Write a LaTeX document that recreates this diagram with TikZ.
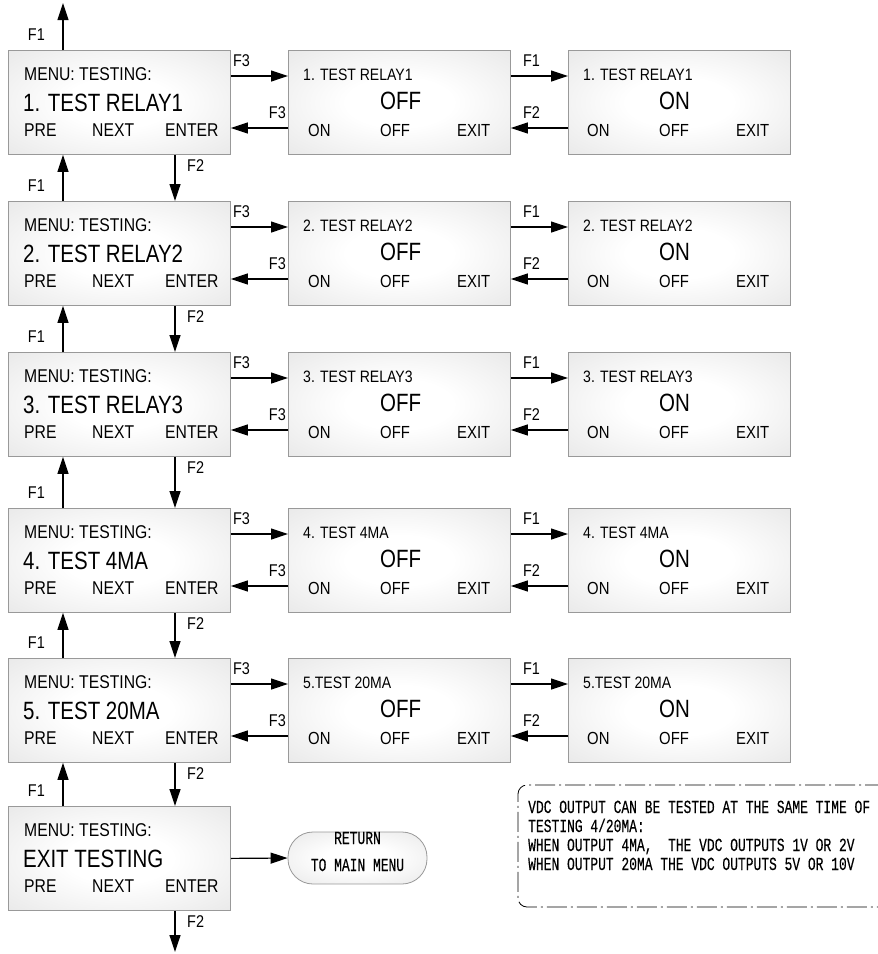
\documentclass[tikz,border=0pt]{standalone}
\usepackage{fontspec}
\newfontfamily\myNarrow[FakeStretch=0.85]{Liberation Sans}
\newfontfamily\myBig[FakeStretch=0.82]{Liberation Sans}
\newfontfamily\myMono[FakeStretch=0.70,FakeBold=0.25]{Liberation Mono}
\usetikzlibrary{arrows.meta,calc}
\pgfdeclareradialshading{boxshade}{\pgfpoint{0bp}{0bp}}{color(0bp)=(white); color(12bp)=(white); color(48bp)=(black!13); color(75bp)=(black!17)}
\begin{document}
\begin{tikzpicture}[x=1pt,y=-1pt,
  scr/.style={draw=black!40, line width=0.8pt, shading=boxshade, minimum width=222pt, minimum height=104pt, anchor=north west, inner sep=0pt},
  retn/.style={draw=black!40, line width=0.8pt, shading=boxshade, minimum width=139pt, minimum height=52pt, rounded corners=25pt, inner sep=0pt},
  arr/.style={line width=1.2pt, -{Triangle[length=17pt,width=11pt]}},
  lab/.style={font=\myNarrow\fontsize{17}{17}\selectfont, inner sep=0pt},
  menut/.style={font=\myNarrow\fontsize{18.5}{20}\selectfont, inner sep=0pt, anchor=base west},
  bigt/.style={font=\myBig\fontsize{25}{27}\selectfont, inner sep=0pt, anchor=base west},
  subt/.style={font=\myNarrow\fontsize{16.5}{18}\selectfont, inner sep=0pt, anchor=base west},
  keyt/.style={font=\myNarrow\fontsize{17.5}{18}\selectfont, inner sep=0pt, anchor=base west},
  monot/.style={font=\myMono\fontsize{18.5}{19}\selectfont, inner sep=0pt, anchor=base west},
  monoc/.style={font=\myMono\fontsize{18.5}{19}\selectfont, inner sep=0pt, anchor=base},
  notebox/.style={line width=0.8pt, dash pattern=on 20pt off 4pt on 2pt off 4pt, rounded corners=9pt}
]
\useasboundingbox (0,0) rectangle (878,954);

% ---- rows 1..5 ----
\foreach \i/\t/\BigTxt/\SubTxt in {1/50/1. TEST RELAY1/1. TEST RELAY1,
                                   2/201/2. TEST RELAY2/2. TEST RELAY2,
                                   3/352/3. TEST RELAY3/3. TEST RELAY3,
                                   4/508/4. TEST 4MA/4. TEST 4MA,
                                   5/658/5. TEST 20MA/5.TEST 20MA}{
  \node[scr] (L\i) at (8,\t) {};
  \node[scr] (M\i) at (288,\t) {};
  \node[scr] (R\i) at (568,\t) {};
  % left box texts
  \node[menut] (Lm\i) at ($(L\i.north west)+(16,30)$) {MENU: TESTING:};
  \node[bigt]  (Lb\i) at ($(L\i.north west)+(15,61)$) {\BigTxt};
  \node[menut] (Lp\i) at ($(L\i.north west)+(16,86)$) {PRE};
  \node[menut] (Ln\i) at ($(L\i.north west)+(84,86)$) {NEXT};
  \node[menut] (Le\i) at ($(L\i.north west)+(157,86)$) {ENTER};
  % middle box texts
  \node[subt] (Ms\i) at ($(M\i.north west)+(15,30)$) {\SubTxt};
  \node[bigt] (Mb\i) at ($(M\i.north west)+(92,59)$) {OFF};
  \node[keyt] (Mo\i) at ($(M\i.north west)+(20,86)$) {ON};
  \node[keyt] (Mf\i) at ($(M\i.north west)+(92,86)$) {OFF};
  \node[keyt] (Mx\i) at ($(M\i.north west)+(169,86)$) {EXIT};
  % right box texts
  \node[subt] (Rs\i) at ($(R\i.north west)+(15,30)$) {\SubTxt};
  \node[bigt] (Rb\i) at ($(R\i.north west)+(91,59)$) {ON};
  \node[keyt] (Ro\i) at ($(R\i.north west)+(19,86)$) {ON};
  \node[keyt] (Rf\i) at ($(R\i.north west)+(91,86)$) {OFF};
  \node[keyt] (Rx\i) at ($(R\i.north west)+(168,86)$) {EXIT};
  % horizontal arrows
  \draw[arr] ($(L\i.north east)+(0,26)$) -- ($(M\i.north west)+(0,26)$);
  \draw[arr] ($(M\i.north west)+(0,78)$) -- ($(L\i.north east)+(0,78)$);
  \draw[arr] ($(M\i.north east)+(0,26)$) -- ($(R\i.north west)+(0,26)$);
  \draw[arr] ($(R\i.north west)+(0,78)$) -- ($(M\i.north east)+(0,78)$);
  \node[lab, anchor=south west] (F3a\i) at ($(L\i.north east)+(2,17)$) {F3};
  \node[lab, anchor=south east] (F3b\i) at ($(M\i.north west)+(-2,69)$) {F3};
  \node[lab, anchor=south west] (F1m\i) at ($(M\i.north east)+(12,17)$) {F1};
  \node[lab, anchor=south west] (F2m\i) at ($(M\i.north east)+(12,69)$) {F2};
}

% ---- row 6 ----
\node[scr] (L6) at (8,806) {};
\node[menut] (Lm6) at ($(L6.north west)+(16,30)$) {MENU: TESTING:};
\node[bigt]  (Lb6) at ($(L6.north west)+(15,61)$) {EXIT TESTING};
\node[menut] (Lp6) at ($(L6.north west)+(16,86)$) {PRE};
\node[menut] (Ln6) at ($(L6.north west)+(84,86)$) {NEXT};
\node[menut] (Le6) at ($(L6.north west)+(157,86)$) {ENTER};

\node[retn] (ret) at (357.5,858) {};
\node[monoc] (ret1) at (357.5,844) {RETURN};
\node[monoc] (ret2) at (357.5,871) {TO MAIN MENU};
\draw[arr] (L6.east) -- (ret.west);

% ---- vertical arrows ----
\coordinate (topend) at (63,3);
\coordinate (botend) at (175,952);
\draw[arr] ($(L1.north west)+(55,0)$) -- (topend);
\foreach \i/\j in {1/2,2/3,3/4,4/5,5/6}{
  \draw[arr] ($(L\j.north west)+(55,0)$) -- ($(L\i.south west)+(55,0)$);
  \draw[arr] ($(L\i.south west)+(167,0)$) -- ($(L\j.north west)+(167,0)$);
}
\draw[arr] ($(L6.south west)+(167,0)$) -- (botend);
\foreach \j in {1,...,6}{
  \node[lab, anchor=south east] (F1u\j) at ($(L\j.north west)+(37,-9)$) {F1};
  \node[lab, anchor=north west] (F2d\j) at ($(L\j.south west)+(179,5)$) {F2};
}

% ---- note ----
\coordinate (nb1) at (885,785);
\coordinate (nb2) at (518,785);
\coordinate (nb3) at (518,907);
\coordinate (nb4) at (885,907);
\draw[notebox] (nb1) -- (nb2) -- (nb3) -- (nb4);
\node[monot] (n1) at (528,813) {VDC OUTPUT CAN BE TESTED AT THE SAME TIME OF};
\node[monot] (n2) at (528,832) {TESTING 4/20MA:};
\node[monot] (n3) at (528,851) {WHEN OUTPUT 4MA,\ \ THE VDC OUTPUTS 1V OR 2V};
\node[monot] (n4) at (528,870) {WHEN OUTPUT 20MA THE VDC OUTPUTS 5V OR 10V};
\end{tikzpicture}
\end{document}
